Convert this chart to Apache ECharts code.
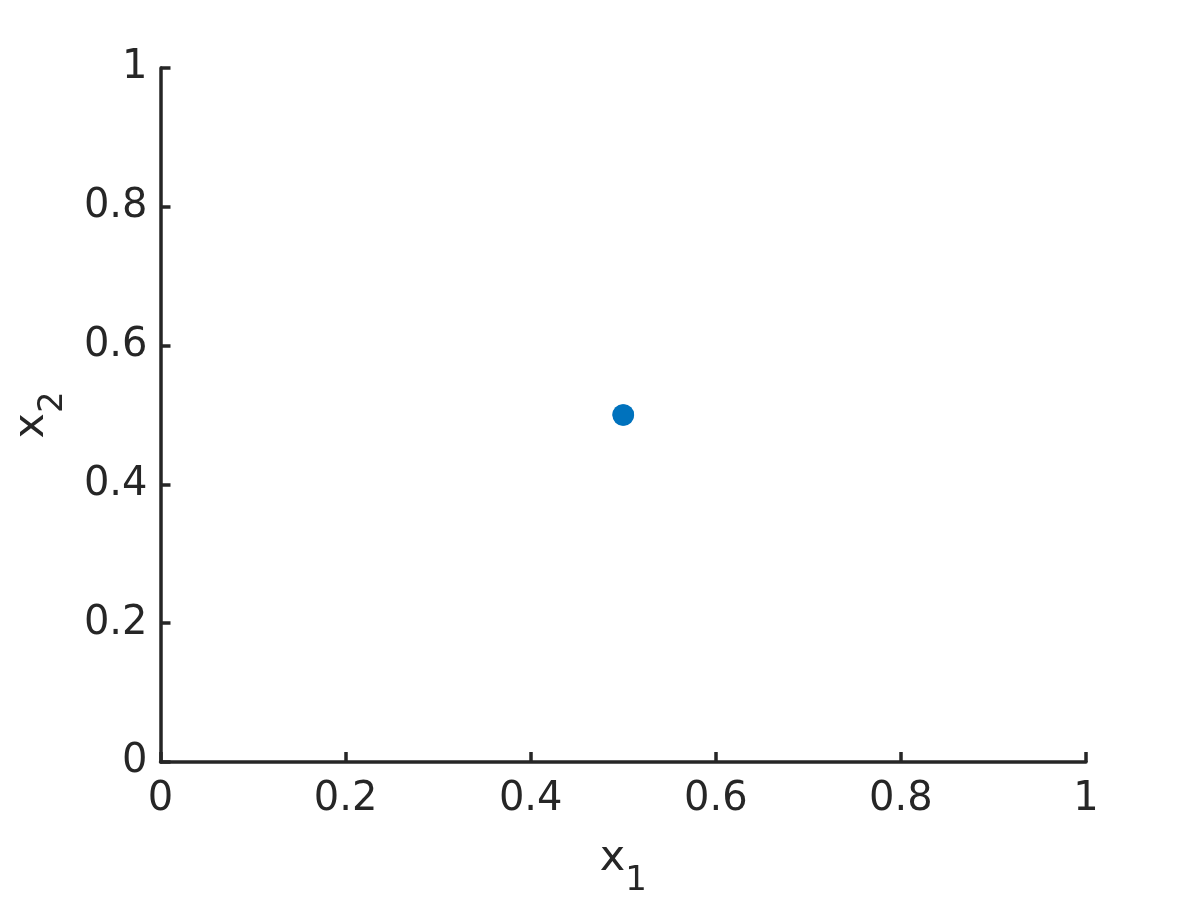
<!DOCTYPE html>
<html>
<head>
<meta charset="utf-8">
<script src="https://cdn.jsdelivr.net/npm/echarts@6/dist/echarts.min.js"></script>
<style>html,body{margin:0;padding:0;background:#fff;}#c{width:1200px;height:900px;}</style>
</head>
<body>
<div id="c"></div>
<script>
const xValues = [0.4994, 0.5006, 0.4994, 0.5006];
const yValues = [0.4993, 0.4993, 0.5007, 0.5007];
const xTicks = [0, 0.2, 0.4, 0.6, 0.8, 1];
const yTicks = [0, 0.2, 0.4, 0.6, 0.8, 1];

const FONT = 'DejaVu Sans';
const INK = '#262626';
const chart = echarts.init(document.getElementById('c'), null, {renderer: 'canvas'});
const pts = xValues.map((x, i) => [x, yValues[i]]);

function axisCommon(name, gap, ticks) {
  return {
    type: 'value', min: ticks[0], max: ticks[ticks.length - 1], interval: 0.2,
    name: name, nameLocation: 'middle', nameGap: gap,
    nameTextStyle: {
      fontFamily: FONT, color: INK,
      rich: {
        m: {fontFamily: FONT, fontSize: 43, color: INK},
        s: {fontFamily: FONT, fontSize: 34, color: INK, padding: [44, 0, 0, 0]}
      }
    },
    axisLine: {show: true, lineStyle: {color: INK, width: 3.5}},
    axisTick: {show: true, inside: true, length: 10, lineStyle: {color: INK, width: 3.5}},
    splitLine: {show: false},
    axisLabel: {fontFamily: FONT, fontSize: 40, color: INK,
      formatter: v => String(Math.round(v * 10) / 10)}
  };
}

const xAxis = axisCommon('{m|x}{s|1}', 58, xTicks);
xAxis.axisLabel.margin = 18;
const yAxis = axisCommon('{m|x}{s|2}', 90, yTicks);
yAxis.axisLabel.margin = 13;

chart.setOption({
  animation: false,
  backgroundColor: '#fff',
  grid: {left: 160.5, right: 114, top: 68, bottom: 138, containLabel: false, outerBoundsMode: 'none'},
  xAxis: xAxis,
  yAxis: yAxis,
  series: [{
    type: 'scatter', data: pts, symbol: 'circle', symbolSize: 20.5,
    itemStyle: {color: '#0072BD', opacity: 1}
  }]
});
</script>
</body>
</html>
